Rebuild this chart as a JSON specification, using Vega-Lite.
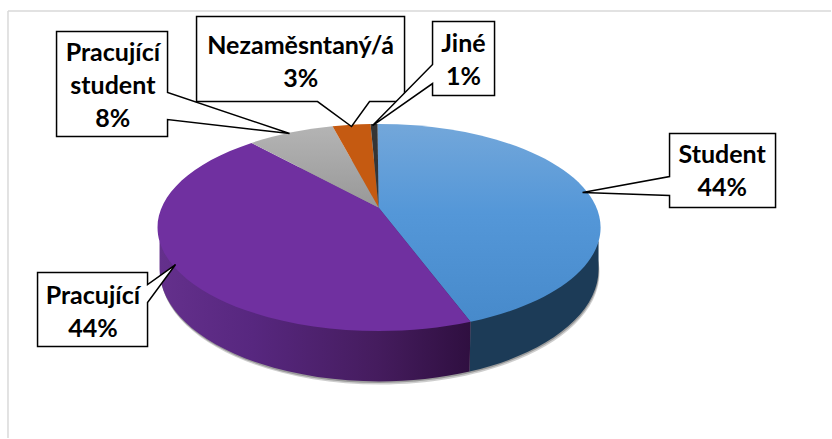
{
"$schema":"https://vega.github.io/schema/vega-lite/v6.json",
"width":832,"height":439,"padding":0,
"autosize":{"type":"fit","contains":"padding"},
"background":"white",
"config":{"view":{"stroke":null}},
"datasets":{"slices":[
{"status":"Student","share":44,"label":["Student","44%"]},
{"status":"Pracující","share":44,"label":["Pracující","44%"]},
{"status":"Pracující student","share":8,"label":["Pracující","student","8%"]},
{"status":"Nezaměsntaný/á","share":3,"label":["Nezaměsntaný/á","3%"]},
{"status":"Jiné","share":1,"label":["Jiné","1%"]}
]},
"data":{"name":"slices"},
"resolve":{"scale":{"shape":"independent","color":"independent"}},
"layer":[
{"transform":[{"filter":"datum.status==='Student'"}],"mark":{"type":"rule","stroke":"#d9d9d9","strokeWidth":1.5},
 "encoding":{"x":{"datum":8,"type":"quantitative","scale":{"domain":[0,832],"nice":false},"axis":null},"y":{"datum":11,"type":"quantitative","scale":{"domain":[439,0],"nice":false},"axis":null},"y2":{"datum":439}}},
{"transform":[{"filter":"datum.status==='Student'"}],"mark":{"type":"rule","stroke":"#d9d9d9","strokeWidth":1.5},
 "encoding":{"x":{"datum":8,"type":"quantitative","scale":{"domain":[0,832],"nice":false},"axis":null},"x2":{"datum":832},"y":{"datum":11,"type":"quantitative","scale":{"domain":[439,0],"nice":false},"axis":null}}},
{"transform":[{"filter":"datum.status==='Student'"}],"mark":{"type":"point","filled":true,"fill":"#222222","opacity":0.22,"size":4,"shape":"M-219 62A219.5 112 0 1 0 220 62A219.5 112 0 1 0 -219 62Z"},
 "encoding":{"x":{"datum":380,"type":"quantitative","scale":{"domain":[0,832],"nice":false},"axis":null},"y":{"datum":211,"type":"quantitative","scale":{"domain":[439,0],"nice":false},"axis":null}}},
{"transform":[{"filter":"datum.status==='Student'"}],"mark":{"type":"point","filled":true,"fill":"#222222","opacity":0.3,"size":4,"shape":"M-219 62A219.5 112 0 1 0 220 62A219.5 112 0 1 0 -219 62Z"},
 "encoding":{"x":{"datum":379.5,"type":"quantitative","scale":{"domain":[0,832],"nice":false},"axis":null},"y":{"datum":209.5,"type":"quantitative","scale":{"domain":[439,0],"nice":false},"axis":null}}},
{"transform":[{"filter":"datum.status==='Student'"}],"mark":{"type":"point","filled":true,"fill":"#1c3b57","opacity":1,"size":4,"shape":"M92 114L91 164A219.5 112 0 0 0 220 62L220 34L0 0Z"},
 "encoding":{"x":{"datum":379,"type":"quantitative","scale":{"domain":[0,832],"nice":false},"axis":null},"y":{"datum":208,"type":"quantitative","scale":{"domain":[439,0],"nice":false},"axis":null}}},
{"transform":[{"filter":"datum.status==='Pracující'"}],"mark":{"type":"point","filled":true,"opacity":1,"size":4,"shape":"M92 114L91 164A219.5 112 0 0 1 -219 62L-219 34L0 0Z",
  "fill":{"gradient":"linear","x1":0,"y1":0,"x2":1,"y2":0,"stops":[{"offset":0,"color":"#64308c"},{"offset":0.3,"color":"#57277f"},{"offset":0.7,"color":"#451c5e"},{"offset":1,"color":"#2f0f40"}]}},
 "encoding":{"x":{"datum":379,"type":"quantitative","scale":{"domain":[0,832],"nice":false},"axis":null},"y":{"datum":208,"type":"quantitative","scale":{"domain":[439,0],"nice":false},"axis":null}}},
{"transform":[{"filter":"datum.status==='Student'"}],"mark":{"type":"point","filled":true,"opacity":1,"size":4,"shape":"M0 0L-1 -83.5A221.5 103.5 0 0 1 92 114.26Z",
  "fill":{"gradient":"linear","x1":0,"y1":0,"x2":0,"y2":1,"stops":[{"offset":0,"color":"#73a7da"},{"offset":0.45,"color":"#5497d8"},{"offset":1,"color":"#478acb"}]}},
 "encoding":{"x":{"datum":379,"type":"quantitative","scale":{"domain":[0,832],"nice":false},"axis":null},"y":{"datum":208,"type":"quantitative","scale":{"domain":[439,0],"nice":false},"axis":null}}},
{"transform":[{"filter":"datum.status==='Pracující'"}],"mark":{"type":"point","filled":true,"fill":"#7030a0","opacity":1,"size":4,"shape":"M0 0L92 114.26A221.5 103.5 0 0 1 -127 -64.63Z"},
 "encoding":{"x":{"datum":379,"type":"quantitative","scale":{"domain":[0,832],"nice":false},"axis":null},"y":{"datum":208,"type":"quantitative","scale":{"domain":[439,0],"nice":false},"axis":null}}},
{"transform":[{"filter":"datum.status==='Pracující student'"}],"mark":{"type":"point","filled":true,"opacity":1,"size":4,"shape":"M0 0L-127 -64.63A221.5 103.5 0 0 1 -46 -81.2Z",
  "fill":{"gradient":"linear","x1":0,"y1":0,"x2":0,"y2":1,"stops":[{"offset":0,"color":"#b4b4b4"},{"offset":1,"color":"#989898"}]}},
 "encoding":{"x":{"datum":379,"type":"quantitative","scale":{"domain":[0,832],"nice":false},"axis":null},"y":{"datum":208,"type":"quantitative","scale":{"domain":[439,0],"nice":false},"axis":null}}},
{"transform":[{"filter":"datum.status==='Nezaměsntaný/á'"}],"mark":{"type":"point","filled":true,"fill":"#c55a11","opacity":1,"size":4,"shape":"M0 0L-46 -81.2A221.5 103.5 0 0 1 -8 -83.42Z"},
 "encoding":{"x":{"datum":379,"type":"quantitative","scale":{"domain":[0,832],"nice":false},"axis":null},"y":{"datum":208,"type":"quantitative","scale":{"domain":[439,0],"nice":false},"axis":null}}},
{"transform":[{"filter":"datum.status==='Jiné'"}],"mark":{"type":"point","filled":true,"fill":"#353535","opacity":1,"size":4,"shape":"M0 0L-8 -83.42A221.5 103.5 0 0 1 -1 -83.5Z"},
 "encoding":{"x":{"datum":379,"type":"quantitative","scale":{"domain":[0,832],"nice":false},"axis":null},"y":{"datum":208,"type":"quantitative","scale":{"domain":[439,0],"nice":false},"axis":null}}},
{"mark":{"type":"point","filled":true,"fill":"white","stroke":"black","strokeWidth":1.5,"opacity":1,"size":4},
 "encoding":{"x":{"datum":379,"type":"quantitative","scale":{"domain":[0,832],"nice":false},"axis":null},"y":{"datum":208,"type":"quantitative","scale":{"domain":[439,0],"nice":false},"axis":null},
  "shape":{"field":"status","type":"nominal","legend":null,"scale":{"domain":["Student","Pracující","Pracující student","Nezaměsntaný/á","Jiné"],"range":[
   "M291 -74L397 -74L397 0L291 0L291 -12L204 -15L291 -31Z",
   "M-341 65L-231 65L-231 77L-203 57L-231 95L-231 139L-341 139Z",
   "M-322 -176L-211 -176L-211 -115L-89 -74L-211 -88L-211 -71L-322 -71Z",
   "M-182 -191L26 -191L26 -106L-9 -106L-27 -81L-61 -106L-182 -106Z",
   "M54 -186L116 -186L116 -112L54 -112L54 -124L-6 -82L54 -143Z"]}}}},
{"transform":[{"filter":"datum.status==='Student'"}],"mark":{"type":"text","font":"Lato","fontWeight":"bold","fontSize":25,"lineHeight":33,"lineBreak":"\n","align":"center","baseline":"middle","color":"black"},
 "encoding":{"text":{"field":"label"},"x":{"datum":723,"type":"quantitative","scale":{"domain":[0,832],"nice":false},"axis":null},"y":{"datum":155,"type":"quantitative","scale":{"domain":[439,0],"nice":false},"axis":null}}},
{"transform":[{"filter":"datum.status==='Pracující'"}],"mark":{"type":"text","font":"Lato","fontWeight":"bold","fontSize":25,"lineHeight":33,"lineBreak":"\n","align":"center","baseline":"middle","color":"black"},
 "encoding":{"text":{"field":"label"},"x":{"datum":93,"type":"quantitative","scale":{"domain":[0,832],"nice":false},"axis":null},"y":{"datum":297,"type":"quantitative","scale":{"domain":[439,0],"nice":false},"axis":null}}},
{"transform":[{"filter":"datum.status==='Pracující student'"}],"mark":{"type":"text","font":"Lato","fontWeight":"bold","fontSize":25,"lineHeight":33,"lineBreak":"\n","align":"center","baseline":"middle","color":"black"},
 "encoding":{"text":{"field":"label"},"x":{"datum":113,"type":"quantitative","scale":{"domain":[0,832],"nice":false},"axis":null},"y":{"datum":53,"type":"quantitative","scale":{"domain":[439,0],"nice":false},"axis":null}}},
{"transform":[{"filter":"datum.status==='Nezaměsntaný/á'"}],"mark":{"type":"text","font":"Lato","fontWeight":"bold","fontSize":25,"lineHeight":33,"lineBreak":"\n","align":"center","baseline":"middle","color":"black"},
 "encoding":{"text":{"field":"label"},"x":{"datum":301,"type":"quantitative","scale":{"domain":[0,832],"nice":false},"axis":null},"y":{"datum":46,"type":"quantitative","scale":{"domain":[439,0],"nice":false},"axis":null}}},
{"transform":[{"filter":"datum.status==='Jiné'"}],"mark":{"type":"text","font":"Lato","fontWeight":"bold","fontSize":25,"lineHeight":33,"lineBreak":"\n","align":"center","baseline":"middle","color":"black"},
 "encoding":{"text":{"field":"label"},"x":{"datum":464,"type":"quantitative","scale":{"domain":[0,832],"nice":false},"axis":null},"y":{"datum":44,"type":"quantitative","scale":{"domain":[439,0],"nice":false},"axis":null}}}
]
}
